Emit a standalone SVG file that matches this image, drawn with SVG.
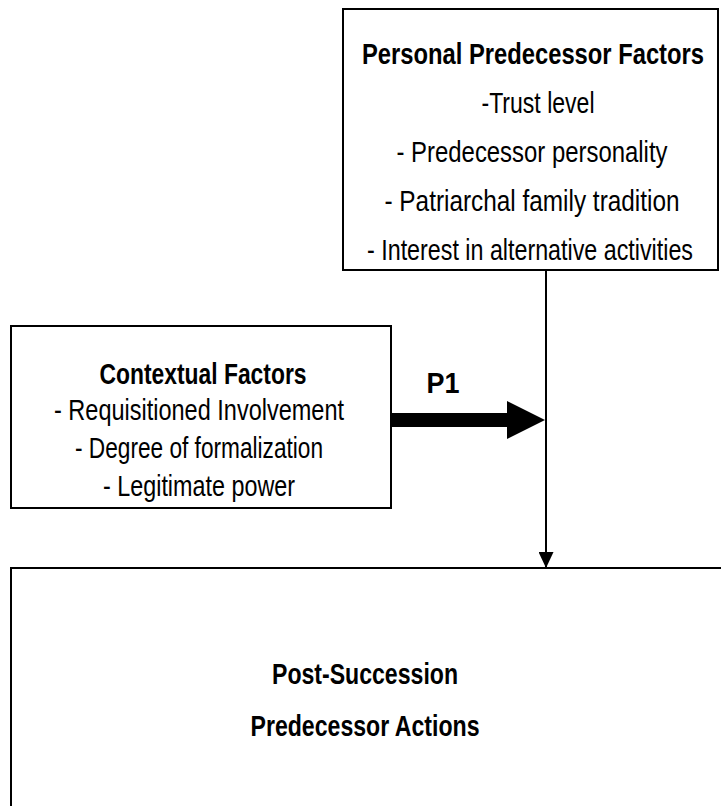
<svg xmlns="http://www.w3.org/2000/svg" width="721" height="806" viewBox="0 0 721 806">
<style>
.box{fill:#fff;stroke:#000;stroke-width:2}
.t{font-family:"Liberation Sans Narrow","Arial Narrow","Liberation Sans",Arial,sans-serif;font-size:29px;fill:#000;text-anchor:middle}
.b{font-weight:bold}
.ln{stroke:#000;stroke-width:2;fill:none}
</style>
<defs>
<marker id="ah" viewBox="0 0 16 15" refX="16" refY="7.5" markerWidth="16" markerHeight="15" markerUnits="userSpaceOnUse" orient="auto">
<path d="M0,0 L16,7.5 L0,15 Z" fill="#000"/>
</marker>
</defs>
<g id="personal">
<rect class="box" x="343" y="9" width="375" height="261"/>
<text class="t b" x="533" y="64" textLength="342" lengthAdjust="spacingAndGlyphs">Personal Predecessor Factors</text>
<text class="t" x="538" y="113" textLength="113" lengthAdjust="spacingAndGlyphs">-Trust level</text>
<text class="t" x="532" y="162" textLength="271" lengthAdjust="spacingAndGlyphs">- Predecessor personality</text>
<text class="t" x="532" y="211" textLength="295" lengthAdjust="spacingAndGlyphs">- Patriarchal family tradition</text>
<text class="t" x="530" y="260" textLength="326" lengthAdjust="spacingAndGlyphs">- Interest in alternative activities</text>
</g>
<g id="contextual">
<rect class="box" x="11" y="326" width="380" height="182"/>
<text class="t b" x="203" y="384" textLength="207" lengthAdjust="spacingAndGlyphs">Contextual Factors</text>
<text class="t" x="199" y="420" textLength="290" lengthAdjust="spacingAndGlyphs">- Requisitioned Involvement</text>
<text class="t" x="199" y="458" textLength="248" lengthAdjust="spacingAndGlyphs">- Degree of formalization</text>
<text class="t" x="199" y="496" textLength="192" lengthAdjust="spacingAndGlyphs">- Legitimate power</text>
</g>
<g id="actions">
<rect class="box" x="11" y="568" width="720" height="260"/>
<text class="t b" x="365" y="684" textLength="186" lengthAdjust="spacingAndGlyphs">Post-Succession</text>
<text class="t b" x="365" y="736" textLength="229" lengthAdjust="spacingAndGlyphs">Predecessor Actions</text>
</g>
<g id="connectors">
<line class="ln" x1="546" y1="270" x2="546" y2="568" marker-end="url(#ah)"/>
<path d="M392,413 L507,413 L507,401 L545,420 L507,439 L507,427 L392,427 Z" fill="#000"/>
<text class="t b" x="443" y="393" textLength="33" lengthAdjust="spacingAndGlyphs">P1</text>
</g>
</svg>
